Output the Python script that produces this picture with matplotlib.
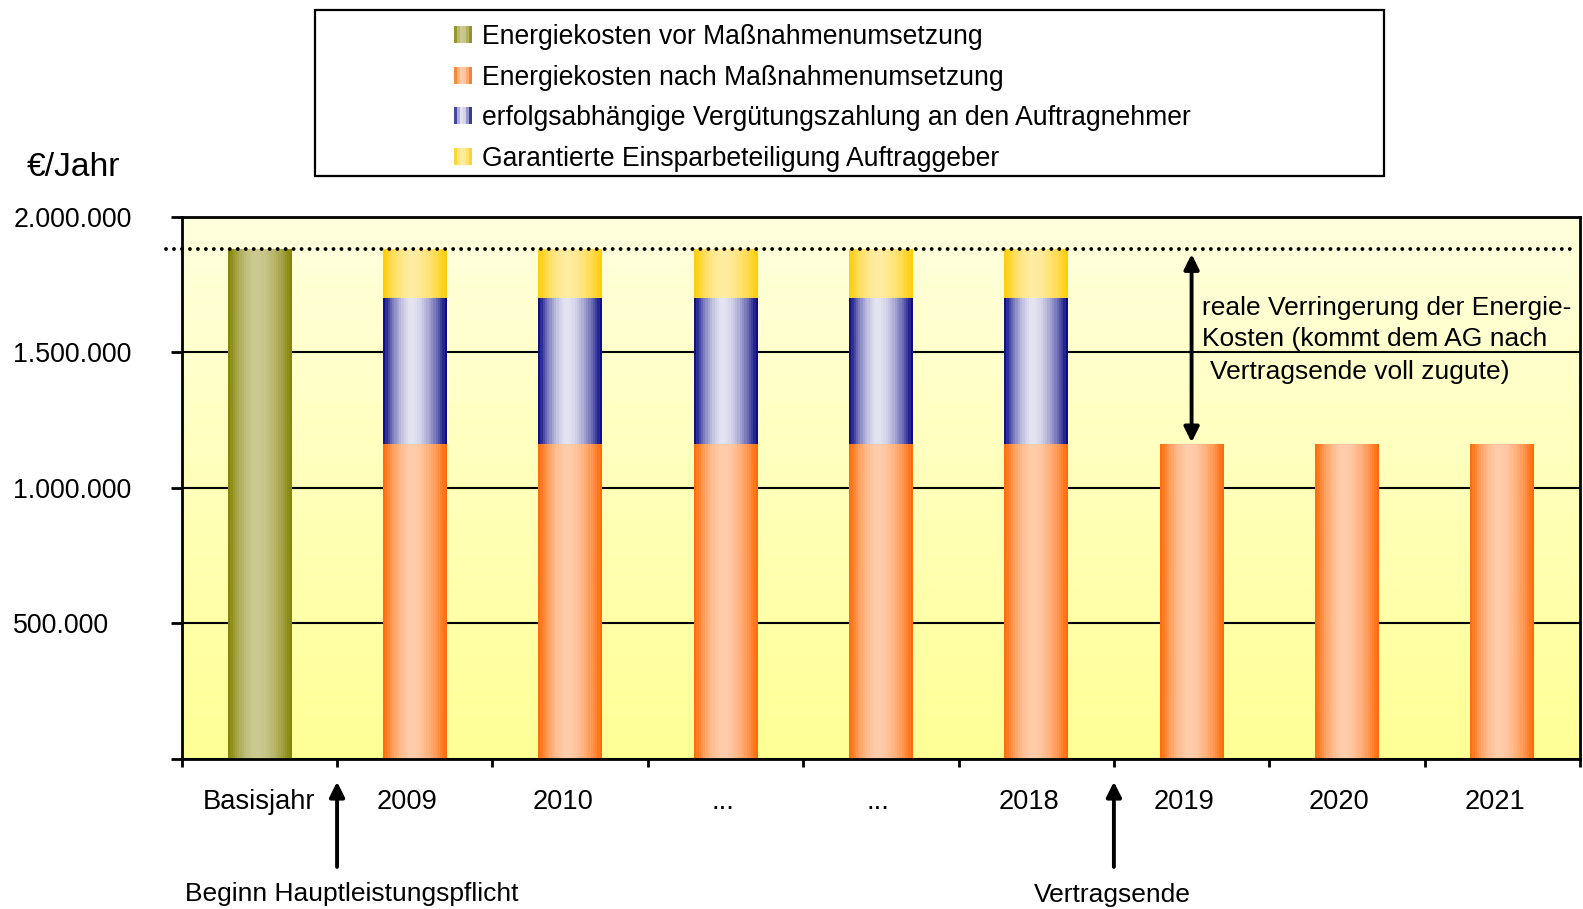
import numpy as np
import matplotlib
matplotlib.use("Agg")
import matplotlib.pyplot as plt
from matplotlib.patches import Patch, Rectangle
from matplotlib.legend_handler import HandlerBase
from matplotlib.transforms import ScaledTranslation

plt.rcParams['font.family'] = ['Liberation Sans', 'DejaVu Sans']

# --- Daten ---
kategorien = ["Basisjahr", "2009", "2010", "...", "...", "2018", "2019", "2020", "2021"]
kosten_vor = [1880000, 0, 0, 0, 0, 0, 0, 0, 0]
kosten_nach = [0, 1160000, 1160000, 1160000, 1160000, 1160000, 1160000, 1160000, 1160000]
verguetung = [0, 540000, 540000, 540000, 540000, 540000, 0, 0, 0]
einsparung_ag = [0, 180000, 180000, 180000, 180000, 180000, 0, 0, 0]
y_ticks = [0, 500000, 1000000, 1500000, 2000000]
y_labels = ["", "500.000", "1.000.000", "1.500.000", "2.000.000"]

legende = [
    "Energiekosten vor Maßnahmenumsetzung",
    "Energiekosten nach Maßnahmenumsetzung",
    "erfolgsabhängige Vergütungszahlung an den Auftragnehmer",
    "Garantierte Einsparbeteiligung Auftraggeber",
]

# Farben (dunkel am Rand, hell in der Mitte)
farben = [
    ("#808000", "#ccca92"),
    ("#ff6600", "#ffcdab"),
    ("#000080", "#e4e4f2"),
    ("#ffcc00", "#ffeca2"),
]

W, H = 1583, 909


def verlauf(dunkel, hell, t):
    d = np.array(matplotlib.colors.to_rgb(dunkel))
    h = np.array(matplotlib.colors.to_rgb(hell))
    c = 0.45
    t = np.asarray(t)
    dist = np.where(t < c, (c - t) / c, (t - c) / (1 - c))
    f = 1 - np.clip(dist, 0, 1) ** 1.8
    return d[None, :] + (h - d)[None, :] * f[:, None]


def balken_verlauf(ax, bars, dunkel, hell):
    n = 28
    img = verlauf(dunkel, hell, (np.arange(n) + 0.5) / n)[None, :, :]
    for b in bars:
        if b.get_height() <= 0:
            continue
        x0, y0 = b.get_x(), b.get_y()
        ax.imshow(img, extent=[x0, x0 + b.get_width(), y0, y0 + b.get_height()],
                  aspect="auto", interpolation="nearest", zorder=2)


class VerlaufHandler(HandlerBase):
    def __init__(self, dunkel, hell):
        super().__init__()
        self.dunkel, self.hell = dunkel, hell

    def create_artists(self, legend, orig_handle, xdescent, ydescent,
                       width, height, fontsize, trans):
        n = 6
        cols = verlauf(self.dunkel, self.hell, (np.arange(n) + 0.5) / n)
        return [Rectangle((-xdescent + width * i / n, -ydescent), width / n, height,
                          facecolor=cols[i], edgecolor="none", transform=trans)
                for i in range(n)]


fig = plt.figure(figsize=(W / 100, H / 100), dpi=100)
ax = fig.add_axes([181.7 / W, 1 - 759 / H, (1580 - 181.7) / W, (759 - 216.7) / H])

# Hintergrund-Verlauf
bg = np.linspace(0, 1, 64)[:, None]
top = np.array([255, 255, 222]) / 255
bot = np.array([255, 255, 150]) / 255
bg_img = top[None, None, :] * (1 - bg[:, :, None]) + bot[None, None, :] * bg[:, :, None]
ax.imshow(bg_img, extent=[0, 1, 0, 1], transform=ax.transAxes, aspect="auto", zorder=0)

x = np.arange(len(kategorien))
bw = 0.41
unten2 = np.array(kosten_nach)
unten3 = unten2 + np.array(verguetung)
b0 = ax.bar(x, kosten_vor, bw, color="none")
b1 = ax.bar(x, kosten_nach, bw, color="none")
b2 = ax.bar(x, verguetung, bw, bottom=unten2, color="none")
b3 = ax.bar(x, einsparung_ag, bw, bottom=unten3, color="none")
for bars, (d, h) in zip([b0, b1, b2, b3], farben):
    balken_verlauf(ax, bars, d, h)

ax.set_xlim(-0.5, len(kategorien) - 0.5)
ax.set_ylim(0, 2000000)

# Gitter und Achsen
ax.set_yticks(y_ticks)
ax.set_yticklabels(y_labels, fontsize=19.3)
for lab in ax.get_yticklabels():
    lab.set_horizontalalignment("left")
ax.tick_params(axis="y", length=8, width=2, pad=113.3)
ax.yaxis.grid(True, color="black", lw=1.5)
ax.set_axisbelow(True)

ax.set_xticks(np.arange(len(kategorien) + 1) - 0.5)
ax.set_xticklabels([])
ax.tick_params(axis="x", which="major", length=6, width=2)
ax.set_xticks(x, minor=True)
ax.set_xticklabels(kategorien, minor=True, fontsize=19.6)
ax.tick_params(axis="x", which="minor", length=0, pad=21.5)
for lab in ax.get_xticklabels(minor=True):
    t = lab.get_text()
    dx = 0 if t == "Basisjahr" else (-3 if t == "..." else -7.5)
    lab.set_transform(lab.get_transform() + ScaledTranslation(dx / 100, 0, fig.dpi_scale_trans))
for sp in ax.spines.values():
    sp.set_linewidth(2)
    sp.set_zorder(4)

# Punktlinie Basisjahr
ax.axhline(kosten_vor[0], xmin=-0.011, xmax=0.994, clip_on=False, color="black",
           lw=2.8, ls=(0, (0.001, 2.05)), dash_capstyle="round", zorder=3)

# Doppelpfeil
ax.annotate("", xy=(6, kosten_nach[6] + 8000), xytext=(6, kosten_vor[0] - 18000),
            arrowprops=dict(arrowstyle="<|-|>,head_length=0.9,head_width=0.45",
                            mutation_scale=10, lw=2.8, color="black",
                            shrinkA=0, shrinkB=0), zorder=5)
ax.text(6.064, 1665000, "reale Verringerung der Energie-", fontsize=19, va="center", ha="left")
ax.text(6.064, 1548000, "Kosten (kommt dem AG nach", fontsize=19, va="center", ha="left")
ax.text(6.12, 1428000, "Vertragsende voll zugute)", fontsize=19, va="center", ha="left")

# Pfeile unter der Achse
for xpos, txt in [(0.5, "Beginn Hauptleistungspflicht"), (5.5, "Vertragsende")]:
    ax.annotate("", xy=(xpos, -0.042), xytext=(xpos, -0.199),
                xycoords=("data", "axes fraction"), textcoords=("data", "axes fraction"),
                annotation_clip=False,
                arrowprops=dict(arrowstyle="-|>,head_length=0.9,head_width=0.45",
                                mutation_scale=10, lw=2.8, color="black",
                                shrinkA=0, shrinkB=0))
fig.text(352 / W, 1 - 894 / H, "Beginn Hauptleistungspflicht", fontsize=19, ha="center", va="center")
fig.text(1112 / W, 1 - 895 / H, "Vertragsende", fontsize=19, ha="center", va="center")

# Einheit
fig.text(27 / W, 1 - 168 / H, "€/Jahr", fontsize=24.2, ha="left", va="center")

# Legende
rahmen = Rectangle((315 / W, 1 - 176 / H), (1384 - 315) / W, (176 - 10) / H,
                   transform=fig.transFigure, facecolor="white", edgecolor="black", lw=1.6)
fig.patches.append(rahmen)
handles = [Patch(label=l) for l in legende]
hmap = {h: VerlaufHandler(d, c) for h, (d, c) in zip(handles, farben)}
fig.legend(handles=handles, loc="upper left", bbox_to_anchor=(454 / W, 1 - 24 / H),
           frameon=False, fontsize=19.1, handler_map=hmap, borderpad=0, borderaxespad=0,
           handlelength=0.68, handleheight=0.6, handletextpad=0.38, labelspacing=0.55)

fig.savefig("out.png", dpi=100)
